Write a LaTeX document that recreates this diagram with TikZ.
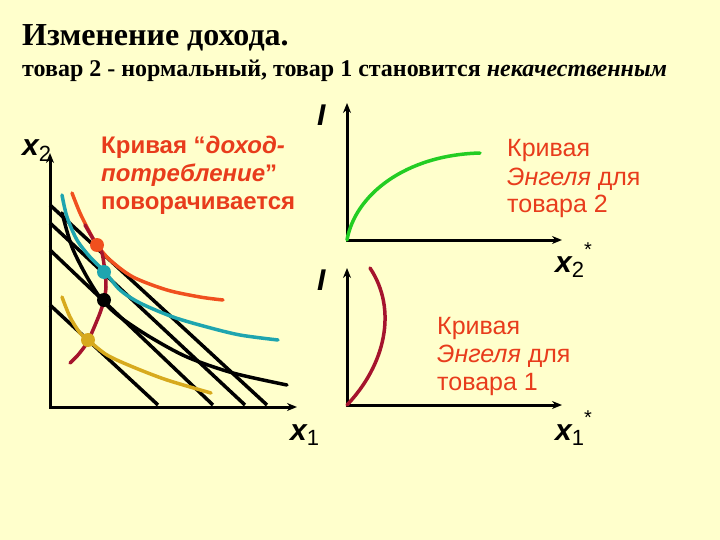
\documentclass[tikz,border=0pt]{standalone}
\usepackage{fontspec}
\setmainfont{Liberation Serif}
\setsansfont{Liberation Sans}
\usetikzlibrary{arrows.meta}

\definecolor{paper}{RGB}{255,255,204}
\definecolor{notered}{RGB}{232,60,28}
\definecolor{icorange}{RGB}{240,80,30}
\definecolor{iccyan}{RGB}{30,165,175}
\definecolor{icgold}{RGB}{215,170,30}
\definecolor{iccred}{RGB}{165,20,45}
\definecolor{engelgreen}{RGB}{35,205,35}

\newcommand{\lowidx}[1]{\raisebox{-0.35ex}{\fontsize{22}{22}\selectfont\upshape\mdseries #1}}
\newcommand{\upstar}{\raisebox{1.0ex}{\fontsize{20}{20}\selectfont\upshape\mdseries *}}

\begin{document}
\begin{tikzpicture}[x=1pt,y=1pt]
\tikzstyle{every node}+=[inner sep=0pt]
\tikzstyle{axis}=[black, line width=3pt, line join=miter, {Stealth[length=10pt,width=8pt]}-{Stealth[length=10pt,width=8pt]}]
\tikzstyle{budget}=[black, line width=3.5pt]
\tikzstyle{curve}=[line width=3.5pt, line cap=round]
\tikzstyle{axlabel}=[font=\fontsize{30}{30}\selectfont\sffamily\bfseries\itshape]
\tikzstyle{note}=[notered, align=left, anchor=base west, font=\fontsize{25}{28}\selectfont\sffamily]
\tikzstyle{dot}=[circle, minimum size=14pt]
\useasboundingbox (0,0) rectangle (720,-540);
\fill [paper] (0,0) rectangle (720,-540);
% headings
\node [anchor=base west, font=\fontsize{32}{32}\selectfont\bfseries] (title) at (22,-46) {Изменение дохода.};
\node [anchor=base west, font=\fontsize{24}{24}\selectfont\bfseries] (subtitle) at (22,-77) {товар 2 - нормальный, товар 1 становится \textit{некачественным}};
% left panel: budget lines and indifference curves
\coordinate (O) at (50,-407);
\coordinate (Otop) at (50,-153);
\coordinate (Oright) at (297,-407);
\draw [budget] (50,-205) -- (267,-405);
\draw [budget] (50,-223) -- (245,-405);
\draw [budget] (50,-250) -- (213,-405);
\draw [budget] (50,-305) -- (158,-405);
\draw [axis] (Otop) |- (Oright);
\draw [curve, icorange] plot [smooth] coordinates {(72,-193) (80,-213) (90,-233) (97,-245) (110,-260) (133,-277) (167,-290) (200,-297) (223,-300)};
\draw [curve, iccyan] plot [smooth] coordinates {(62,-195) (67,-217) (77,-240) (90,-257) (105,-272) (120,-290) (140,-303) (173,-317) (207,-327) (240,-335) (278,-340)};
\draw [curve, black] plot [smooth] coordinates {(62,-213) (72,-247) (87,-277) (102,-300) (120,-317) (150,-337) (187,-357) (233,-373) (287,-385)};
\draw [curve, icgold] plot [smooth] coordinates {(62,-297) (70,-317) (80,-333) (88,-340) (107,-355) (133,-367) (167,-380) (211,-393)};
\draw [curve, iccred] plot [smooth] coordinates {(85,-225) (92,-237) (97,-245) (102,-253) (105,-272) (106,-287) (104,-300) (100,-313) (93,-330) (87,-343) (78,-355) (70,-363)};
\node [dot, fill=icorange] (pa) at (97,-245) {};
\node [dot, fill=iccyan] (pb) at (104,-272) {};
\node [dot, fill=black] (pc) at (104,-300) {};
\node [dot, fill=icgold] (pd) at (88,-340) {};
\node [axlabel, anchor=base west] (lx2) at (22,-156) {x\lowidx{2}};
\node [axlabel, anchor=base west] (lx1) at (290,-440) {x\lowidx{1}};
\node [note, font=\fontsize{24}{28}\selectfont\sffamily\bfseries] (icc) at (101,-210) {Кривая “\textit{доход-}\\\textit{потребление}”\\поворачивается};
% top right: Engel curve for good 2
\coordinate (E) at (347,-240);
\coordinate (Etop) at (347,-103);
\coordinate (Eright) at (562,-240);
\draw [axis] (Etop) |- (Eright);
\draw [curve, engelgreen] (E) .. controls (355,-195) and (405,-155) .. (480,-153);
\node [axlabel, anchor=base west] (lI2) at (317,-126) {I};
\node [axlabel, anchor=base west] (lx2s) at (555,-272) {x\lowidx{2}\upstar};
\node [note] (engel2) at (507,-213) {Кривая\\\textit{Энгеля} для\\товара 2};
% bottom right: Engel curve for good 1
\coordinate (F) at (347,-405);
\coordinate (Ftop) at (347,-268);
\coordinate (Fright) at (562,-405);
\draw [axis] (Ftop) |- (Fright);
\draw [curve, iccred] (F) .. controls (385,-365) and (398,-310) .. (370,-268);
\node [axlabel, anchor=base west] (lI1) at (317,-290) {I};
\node [axlabel, anchor=base west] (lx1s) at (555,-440) {x\lowidx{1}\upstar};
\node [note] (engel1) at (437,-390) {Кривая\\\textit{Энгеля} для\\товара 1};
\end{tikzpicture}
\end{document}
